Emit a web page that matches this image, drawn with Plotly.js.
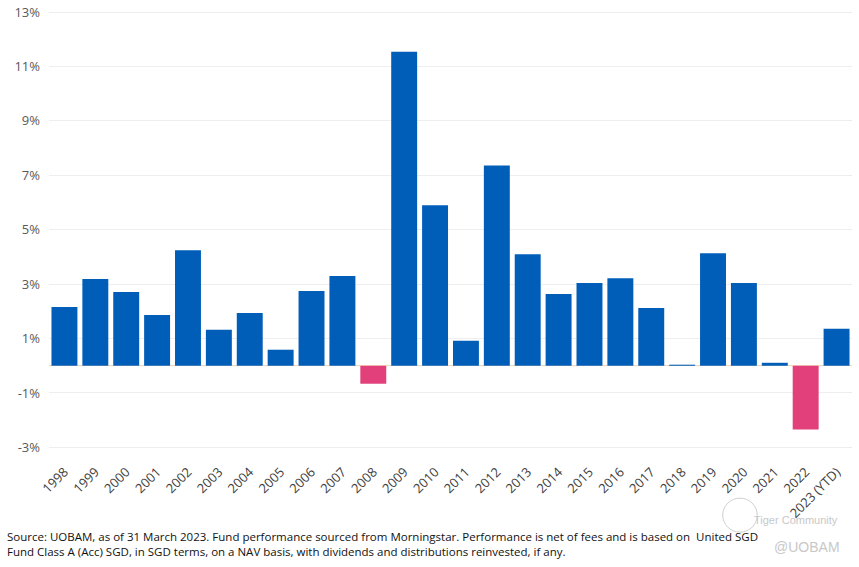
<!DOCTYPE html>
<html>
<head>
<meta charset="utf-8">
<script src="https://cdn.plot.ly/plotly-3.0.1.min.js"></script>
<style>
  html, body { margin: 0; padding: 0; background: #fff; }
  #chart { width: 859px; height: 567px; }
</style>
</head>
<body>
<div id="chart"></div>
<script>
// calendar year returns, % (2023 is year to date)
var years = ['1998', '1999', '2000', '2001', '2002', '2003', '2004', '2005', '2006', '2007',
             '2008', '2009', '2010', '2011', '2012', '2013', '2014', '2015', '2016', '2017',
             '2018', '2019', '2020', '2021', '2022', '2023 (YTD)'];
var returns = [2.16, 3.19, 2.71, 1.87, 4.25, 1.32, 1.94, 0.59, 2.75, 3.30,
               -0.66, 11.54, 5.90, 0.92, 7.36, 4.10, 2.64, 3.04, 3.22, 2.12,
               0.04, 4.14, 3.04, 0.11, -2.34, 1.36];
var yTicks = [-3, -1, 1, 3, 5, 7, 9, 11, 13];
var yTickText = ['-3%', '-1%', '1%', '3%', '5%', '7%', '9%', '11%', '13%'];

var footnote = 'Source: UOBAM, as of 31 March 2023. Fund performance sourced from Morningstar. Performance is net of fees and is based on  United SGD<br>' +
               'Fund Class A (Acc) SGD, in SGD terms, on a NAV basis, with dividends and distributions reinvested, if any.';

var barColors = returns.map(function (v) { return v < 0 ? '#E2407A' : '#005EB8'; });

var trace = {
  type: 'bar',
  x: years,
  y: returns,
  marker: {color: barColors},
  hoverinfo: 'x+y'
};

var layout = {
  width: 859,
  height: 567,
  margin: {l: 49, r: 7, t: 8, b: 106},
  paper_bgcolor: '#ffffff',
  plot_bgcolor: '#ffffff',
  showlegend: false,
  bargap: 0.16,
  font: {family: 'Open Sans, Noto Sans, sans-serif', color: '#404040'},
  xaxis: {
    type: 'category',
    tickangle: -45,
    tickfont: {size: 13, color: '#404040'},
    showgrid: false,
    showline: false,
    ticks: ''
  },
  yaxis: {
    range: [-3.5, 13.15],
    tickvals: yTicks,
    ticktext: yTickText,
    tickfont: {size: 13, color: '#595959'},
    showgrid: true,
    gridcolor: '#eeeeee',
    gridwidth: 1,
    zeroline: true,
    zerolinecolor: '#f5d6bd',
    zerolinewidth: 1,
    showline: false,
    ticks: '',
    ticklabelstandoff: 8
  },
  annotations: [
    {
      xref: 'paper', yref: 'paper', x: -0.055, y: -0.145,
      xanchor: 'left', yanchor: 'top', align: 'left',
      text: footnote, showarrow: false,
      font: {family: 'Liberation Sans Narrow, Open Sans, sans-serif', size: 11.5, color: '#111111'}
    },
    {
      xref: 'paper', yref: 'paper', x: 0.985, y: -0.113,
      xanchor: 'right', yanchor: 'top',
      text: 'Tiger Community', showarrow: false,
      font: {family: 'Liberation Sans, sans-serif', size: 11, color: '#c8c8c8'}
    },
    {
      xref: 'paper', yref: 'paper', x: 0.988, y: -0.168,
      xanchor: 'right', yanchor: 'top',
      text: '@UOBAM', showarrow: false,
      font: {family: 'Liberation Sans, sans-serif', size: 14, color: '#c8c8c8'}
    }
  ],
  shapes: [
    {
      type: 'circle', xref: 'paper', yref: 'paper',
      x0: 0.839, x1: 0.882, y0: -0.157, y1: -0.082,
      line: {color: '#d0d0d0', width: 1}
    }
  ]
};

Plotly.newPlot('chart', [trace], layout, {displayModeBar: false, staticPlot: true});
</script>
</body>
</html>
